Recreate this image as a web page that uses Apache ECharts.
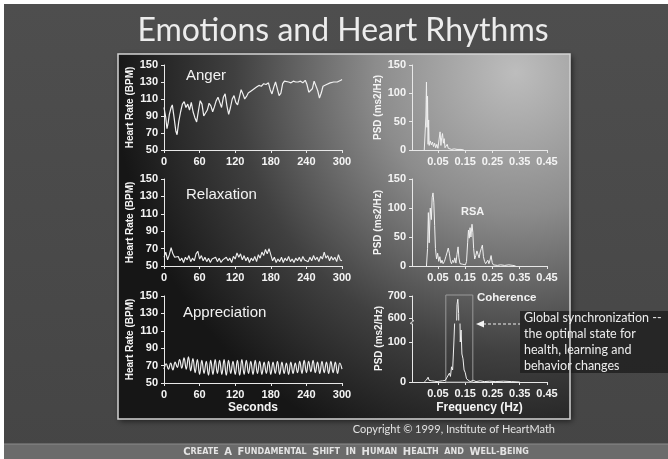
<!DOCTYPE html>
<html>
<head>
<meta charset="utf-8">
<title>Emotions and Heart Rhythms</title>
<script src="https://cdn.jsdelivr.net/npm/echarts@6/dist/echarts.min.js"></script>
<style>
html, body { margin: 0; padding: 0; background: #ffffff; }
#main { width: 668px; height: 459px; }
</style>
</head>
<body>
<div id="main"></div>
<script>
// ---- data ----
// heart rate, [seconds, BPM]
var angerHR = [[0,100],[3,88],[5,75],[7,82],[9,92],[12,100],[14,103],[17,88],[20,72],[22,68],[25,84],[28,95],[31,104],[34,107],[37,100],[40,104],[43,97],[46,106],[49,95],[52,88],[55,83],[58,96],[61,108],[64,104],[67,90],[70,88],[73,97],[76,105],[79,102],[82,95],[85,101],[88,108],[91,112],[94,106],[97,100],[100,112],[103,116],[106,102],[109,92],[112,100],[115,110],[118,114],[121,106],[124,103],[127,112],[130,121],[133,116],[136,110],[139,113],[142,117],[145,119],[148,120],[152,122],[156,124],[160,126],[164,125],[168,128],[172,127],[176,129],[179,121],[182,116],[185,124],[188,130],[191,128],[194,114],[197,117],[200,128],[203,131],[206,129],[210,130],[214,129],[218,131],[222,130],[226,130],[230,131],[234,129],[238,132],[241,127],[244,118],[247,117],[250,122],[253,131],[256,132],[259,120],[262,111],[265,117],[268,125],[271,126],[274,127],[277,128],[280,129],[283,128],[286,130],[289,131],[292,130],[295,132],[298,132],[300,133]];

// relaxation: one reading every 3 s
var relaxStep = 3;
var relaxHR = [60,66,57,63,71,64,60,58,61,56, 59,54,60,57,62,55,59,56,64,67,
  58,62,56,60,55,59,54,58,56,60, 55,59,54,57,55,60,56,59,54,61,
  58,65,60,64,57,62,56,60,54,59, 56,61,55,63,59,66,62,69,64,70,
  69,56,60,54,58,55,60,54,59,56, 61,55,58,54,59,56,60,55,61,57,
  59,55,60,56,62,57,60,55,61,58, 66,59,62,56,61,57,60,55,63,57, 56];

// appreciation: peaks and troughs every 3.75 s
var apprStep = 3.75;
var apprHR = [66,72,66,73,65,74,68,77,67,79, 66,80,64,78,62,77,60,76,61,75,
  59,76,60,77,61,76,60,77,59,76, 61,75,60,76,59,77,60,76,61,75,
  60,76,61,75,60,74,61,75,60,74, 61,75,60,74,61,73,60,74,61,73,
  62,75,61,76,62,75,63,76,62,74, 61,75,62,74,61,75,62,74,61,73, 66];

// power spectra, [Hz, ms2/Hz]
var angerPSD = [[0.000,0],[0.004,2],[0.006,60],[0.008,120],[0.010,40],[0.012,95],[0.014,10],[0.016,53],[0.018,8],[0.022,16],[0.026,9],[0.030,14],[0.034,6],[0.038,12],[0.042,4],[0.046,10],[0.050,3],[0.054,18],[0.058,32],[0.061,8],[0.064,22],[0.067,29],[0.070,12],[0.073,20],[0.076,4],[0.080,6],[0.084,10],[0.088,3],[0.094,4],[0.100,1],[0.110,2],[0.120,1],[0.135,1],[0.145,0]];

var relaxPSD = [[0.008,0],[0.012,30],[0.015,92],[0.018,40],[0.022,100],[0.026,80],[0.029,118],[0.032,126],[0.035,110],[0.038,70],[0.041,30],[0.045,12],[0.049,22],[0.053,8],[0.057,16],[0.061,5],[0.065,10],[0.069,4],[0.074,8],[0.079,16],[0.084,24],[0.088,31],[0.092,22],[0.096,8],[0.100,4],[0.104,10],[0.108,6],[0.112,14],[0.116,5],[0.120,20],[0.124,33],[0.127,14],[0.131,4],[0.136,6],[0.141,3],[0.146,5],[0.151,2],[0.155,8],[0.159,40],[0.162,62],[0.165,48],[0.168,66],[0.171,50],[0.175,72],[0.178,58],[0.181,30],[0.185,12],[0.189,18],[0.193,26],[0.197,20],[0.201,14],[0.205,24],[0.209,30],[0.213,36],[0.217,16],[0.221,8],[0.225,4],[0.229,6],[0.233,10],[0.237,4],[0.241,10],[0.245,18],[0.249,6],[0.253,2],[0.260,4],[0.268,1],[0.280,2],[0.295,1],[0.310,2],[0.325,1],[0.335,0]];

var apprPSD = [[0.000,0],[0.008,5],[0.014,12],[0.018,4],[0.022,9],[0.027,3],[0.032,8],[0.037,2],[0.042,6],[0.047,1],[0.052,4],[0.057,2],[0.062,5],[0.067,3],[0.072,8],[0.077,4],[0.082,10],[0.087,6],[0.092,22],[0.096,14],[0.100,38],[0.104,30],[0.108,90],[0.112,160],[0.116,420],[0.120,660],[0.123,685],[0.126,620],[0.129,250],[0.132,100],[0.135,130],[0.138,70],[0.142,58],[0.146,30],[0.150,24],[0.155,8],[0.160,3],[0.168,1],[0.180,4],[0.190,1],[0.205,3],[0.220,1],[0.240,2],[0.260,1],[0.290,2],[0.320,1],[0.350,0]];

var coherenceBand = [0.079, 0.178];

// tick labels
var hrTicks = [50, 70, 90, 110, 130, 150];
var secTicks = [0, 60, 120, 180, 240, 300];
var hzTicks = [0.05, 0.15, 0.25, 0.35, 0.45];
var psdTicks = [0, 50, 100, 150];
var psdLowTicks = [0, 100];
var psdHighTicks = [600, 700];

var chart = echarts.init(document.getElementById('main'));

var lineCol = '#e8e8e8';
var txtCol = '#f4f4f4';
var fontFam = '"Liberation Sans", Arial, sans-serif';
var hzMin = -0.045, hzMax = 0.45;

function nameStyle(size) {
  return { color: txtCol, fontSize: size, fontWeight: 'bold', fontFamily: fontFam };
}

function valAxis(grid, min, max, ticks, fmt) {
  return {
    type: 'value', gridIndex: grid, min: min, max: max,
    axisLine: { show: true, onZero: false, lineStyle: { color: lineCol, width: 1 } },
    axisTick: { show: true, length: 3, customValues: ticks, lineStyle: { color: lineCol } },
    axisLabel: { customValues: ticks, color: txtCol, fontSize: 11, fontWeight: 'bold',
      fontFamily: fontFam, margin: 6, formatter: fmt },
    splitLine: { show: false }
  };
}

function hzFmt(v) { return v.toFixed(2); }

function hidden(grid, min, max) {
  return { type: 'value', gridIndex: grid, min: min, max: max, show: false, splitLine: { show: false } };
}

var hrGrids = [
  { left: 164, top: 65, width: 178, height: 85 },
  { left: 164, top: 179, width: 178, height: 87 },
  { left: 164, top: 296, width: 178, height: 87 }
];
var psdGrids = [
  { left: 412, top: 65, width: 135, height: 85 },
  { left: 412, top: 179, width: 135, height: 87 },
  { left: 412, top: 324, width: 135, height: 58 },
  { left: 412, top: 296, width: 135, height: 24 },
  { left: 412, top: 295, width: 135, height: 87 }
];

var xAxes = [], yAxes = [];
for (var i = 0; i < 3; i++) {
  var xa = valAxis(i, 0, 300, secTicks);
  var ya = valAxis(i, 50, 150, hrTicks);
  ya.name = 'Heart Rate (BPM)';
  ya.nameLocation = 'middle';
  ya.nameGap = 29;
  ya.nameTextStyle = nameStyle(10);
  if (i === 2) {
    xa.name = 'Seconds';
    xa.nameLocation = 'middle';
    xa.nameGap = 19;
    xa.nameTextStyle = nameStyle(12);
  }
  xAxes.push(xa);
  yAxes.push(ya);
}
// right column
var psdTopX = valAxis(3, hzMin, hzMax, hzTicks, hzFmt);
var psdTopY = valAxis(3, 0, 150, psdTicks);
var psdMidX = valAxis(4, hzMin, hzMax, hzTicks, hzFmt);
var psdMidY = valAxis(4, 0, 150, psdTicks);
[psdTopY, psdMidY].forEach(function (a) {
  a.name = 'PSD (ms2/Hz)'; a.nameLocation = 'middle'; a.nameGap = 28; a.nameTextStyle = nameStyle(10);
});
var psdLowX = valAxis(5, hzMin, hzMax, hzTicks, hzFmt);
psdLowX.name = 'Frequency (Hz)'; psdLowX.nameLocation = 'middle'; psdLowX.nameGap = 20;
psdLowX.nameTextStyle = nameStyle(12);
var psdLowY = valAxis(5, 0, 145, psdLowTicks);
var psdHighX = hidden(6, hzMin, hzMax);
var psdHighY = valAxis(6, 590, 700, psdHighTicks);
var overX = hidden(7, hzMin, hzMax);
var overY = {
  type: 'value', gridIndex: 7, min: 0, max: 1,
  axisLine: { show: false, onZero: false }, axisTick: { show: false }, axisLabel: { show: false },
  splitLine: { show: false },
  name: 'PSD (ms2/Hz)', nameLocation: 'middle', nameGap: 28, nameTextStyle: nameStyle(10)
};
xAxes.push(psdTopX, psdMidX, psdLowX, psdHighX, overX);
yAxes.push(psdTopY, psdMidY, psdLowY, psdHighY, overY);

function trace(idx, data, width, smooth) {
  return {
    type: 'line', xAxisIndex: idx, yAxisIndex: idx, data: data,
    showSymbol: false, symbol: 'none', smooth: smooth || false, clip: true,
    lineStyle: { color: '#f0f0f0', width: width }
  };
}

var series = [
  trace(0, angerHR, 1.2),
  trace(1, relaxHR.map(function (v, i) { return [i * relaxStep, v]; }), 1.1),
  trace(2, apprHR.map(function (v, i) { return [i * apprStep, v]; }), 1.2, 0.45),
  trace(3, angerPSD, 1),
  trace(4, relaxPSD, 1),
  trace(5, apprPSD, 1),
  trace(6, apprPSD, 1),
  {
    type: 'line', xAxisIndex: 7, yAxisIndex: 7, data: [[coherenceBand[0], 0]], symbol: 'none',
    lineStyle: { opacity: 0 },
    markArea: {
      silent: true,
      itemStyle: { color: 'rgba(0,0,0,0)', borderColor: '#9a9a9a', borderWidth: 1 },
      data: [[{ xAxis: coherenceBand[0], yAxis: 0 }, { xAxis: coherenceBand[1], yAxis: 1 }]]
    }
  }
];

function plotTitle(text, left, top, size, weight) {
  return { text: text, left: left, top: top, padding: 0,
    textStyle: { color: '#f2f2f2', fontSize: size, fontWeight: weight, fontFamily: fontFam } };
}

var titles = [
  plotTitle('Anger', 186, 68, 15, 'normal'),
  plotTitle('Relaxation', 186, 187, 15, 'normal'),
  plotTitle('Appreciation', 183, 305, 15, 'normal'),
  plotTitle('RSA', 461, 206, 11, 'bold'),
  plotTitle('Coherence', 477, 292, 11.5, 'bold')
];

var panelFill = new echarts.graphic.RadialGradient(0.88, 0.05, 1.1, [
  { offset: 0, color: '#bdbdbd' },
  { offset: 0.35, color: '#8c8c8c' },
  { offset: 0.7, color: '#404040' },
  { offset: 1, color: '#161616' }
]);

var graphics = [
  { type: 'rect', z: -20, shape: { x: 4, y: 4, width: 664, height: 455 },
    style: { fill: new echarts.graphic.LinearGradient(0, 0, 0, 1, [
      { offset: 0, color: '#4e4e4e' }, { offset: 1, color: '#454545' }]) } },
  { type: 'rect', z: -19, shape: { x: 4, y: 444, width: 664, height: 15 }, style: { fill: '#6b6b6b' } },
  { type: 'line', z: -19, shape: { x1: 4, y1: 444, x2: 668, y2: 444 }, style: { stroke: '#8c8c8c', lineWidth: 1 } },
  { type: 'rect', z: -18, shape: { x: 118, y: 54, width: 452, height: 365 },
    style: { fill: panelFill, shadowBlur: 6, shadowOffsetX: 2, shadowOffsetY: 2, shadowColor: 'rgba(0,0,0,0.6)' } },
  { type: 'text', z: -17, style: { text: 'Emotions and Heart Rhythms', x: 343, y: 31, align: 'center',
    verticalAlign: 'middle', fill: '#ececec', font: '32px Lato, sans-serif' } },
  { type: 'text', z: -17, style: { text: 'Copyright \u00a9 1999, Institute of HeartMath', x: 555, y: 429,
    align: 'right', verticalAlign: 'middle', fill: '#e2e2e2', font: '11px Lato, sans-serif' } },
  { type: 'text', z: -17, style: {
    text: '{b|C}{s|REATE}  {b|A}  {b|F}{s|UNDAMENTAL}  {b|S}{s|HIFT}  {b|I}{s|N}  {b|H}{s|UMAN}  {b|H}{s|EALTH}  {s|AND}  {b|W}{s|ELL}-{b|B}{s|EING}',
    x: 356, y: 452, align: 'center', verticalAlign: 'middle', fill: '#e4e4e4',
    font: 'bold 8px "DejaVu Sans", sans-serif',
    rich: { b: { fontSize: 10, fontWeight: 'bold', fontFamily: 'DejaVu Sans', fill: '#e4e4e4' },
            s: { fontSize: 8, fontWeight: 'bold', fontFamily: 'DejaVu Sans', fill: '#e4e4e4' } } } },
  // call-out box
  { type: 'rect', z: 10, shape: { x: 520, y: 311, width: 148, height: 62 }, style: { fill: 'rgba(30,30,30,0.82)' } },
  { type: 'rect', z: 11, shape: { x: 118, y: 54, width: 452, height: 365 },
    style: { fill: null, stroke: '#d4d4d4', lineWidth: 1.5 } },
  { type: 'text', z: 12, style: {
    text: 'Global synchronization --\nthe optimal state for\nhealth, learning and\nbehavior changes',
    x: 524, y: 310, fill: '#ececec', font: '12.5px Lato, sans-serif', lineHeight: 16 } },
  // arrow to the coherence band
  { type: 'line', z: 12, shape: { x1: 483, y1: 324, x2: 520, y2: 324 },
    style: { stroke: '#f0f0f0', lineWidth: 1, lineDash: [3, 2] } },
  { type: 'polygon', z: 12, shape: { points: [[476, 324], [484, 320.5], [484, 327.5]] }, style: { fill: '#f4f4f4' } },
  // axis break mark
  { type: 'bezierCurve', z: 12, shape: { x1: 412, y1: 320, cpx1: 418, cpy1: 321, cpx2: 406, cpy2: 323, x2: 412, y2: 324 },
    style: { stroke: lineCol, lineWidth: 1, fill: null } }
];

chart.setOption({
  backgroundColor: '#ffffff',
  animation: false,
  title: titles,
  grid: hrGrids.concat(psdGrids),
  xAxis: xAxes,
  yAxis: yAxes,
  series: series,
  graphic: graphics
});
</script>
</body>
</html>
